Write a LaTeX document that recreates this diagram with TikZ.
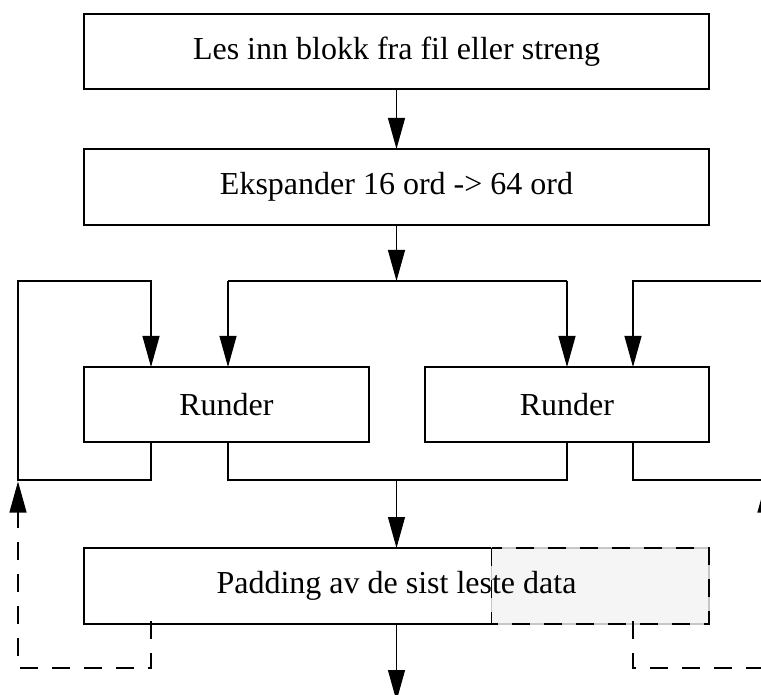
\documentclass[tikz,border=0pt]{standalone}
\usepackage{fontspec}
\setmainfont{Liberation Serif}
\usetikzlibrary{arrows.meta}
\begin{document}
\begin{tikzpicture}[x=0.75pt,y=-0.75pt,
  lw/.style={line width=0.8pt},
  box/.style={draw, lw, minimum width=468.75pt, minimum height=56.25pt,
    inner sep=0pt, outer sep=0pt, fill=white},
  lbl/.style={font=\fontsize{24}{29}\selectfont, inner sep=0pt},
  arr/.style={lw, -{Triangle[length=23.25pt,width=12.75pt]}},
  ln/.style={lw},
  dsh/.style={lw, dash pattern=on 13.5pt off 10.5pt},
  overlay box/.style={fill=black!4, draw=black!22, lw, inner sep=0pt, outer sep=0pt,
    minimum width=163pt, minimum height=57pt}
]
\useasboundingbox (0,0) rectangle (761,695);
\clip (0,0) rectangle (761,695);

% boxes
\node[box, lbl] (b1) at (396.5,51.5) {Les inn blokk fra fil eller streng};
\node[box, lbl, minimum height=57pt] (b2) at (396.5,187) {Ekspander 16 ord -> 64 ord};
\node[box, lbl, minimum width=213.75pt] (r1) at (226.5,404.5) {Runder};
\node[box, lbl, minimum width=213pt] (r2) at (567,404.5) {Runder};
\node[box, minimum height=57pt] (p) at (396.5,586) {};
\node[overlay box] (g) at (600.35,586) {};
\draw[dsh] (g.north west) rectangle (g.south east);
\node[lbl] (pt) at (396.5,586) {Padding av de sist leste data};

% coordinates
\coordinate (top) at (396.5,281);
\coordinate (tl) at (228,281);
\coordinate (tr) at (567,281);
\coordinate (l1t) at (151,281);
\coordinate (lxt) at (18,281);
\coordinate (lxb) at (18,480);
\coordinate (l1b) at (151,480);
\coordinate (mb1) at (228,480);
\coordinate (mb2) at (567,480);
\coordinate (mbc) at (396.5,480);
\coordinate (r1t) at (633,281);
\coordinate (rxt) at (766,281);
\coordinate (rxb) at (766,480);
\coordinate (r1b) at (633,480);
\coordinate (fl0) at (151,621);
\coordinate (fl1) at (151,668);
\coordinate (fl2) at (18,668);
\coordinate (fl3) at (18,481.5);
\coordinate (fr0) at (633,621);
\coordinate (fr1) at (633,668);
\coordinate (fr2) at (766,668);
\coordinate (fr3) at (766,481.5);
\coordinate (out) at (396.5,701);

% connectors
\draw[arr] (b1.south) -- (b2.north);
\draw[arr] (b2.south) -- (top);
\draw[ln] (tl) -- (tr);
\draw[arr] (tl) -- (tl |- r1.north);
\draw[arr] (tr) -- (tr |- r2.north);

\draw[arr] (r1.south -| l1b) -- (l1b) -- (lxb) -- (lxt) -- (l1t) -- (l1t |- r1.north);
\draw[arr] (r2.south -| r1b) -- (r1b) -- (rxb) -- (rxt) -- (r1t) -- (r1t |- r2.north);

\draw[ln] (r1.south -| mb1) -- (mb1) -- (mb2) -- (r2.south -| mb2);
\draw[arr] (mbc) -- (p.north);

\draw[dsh, -{Triangle[length=23.25pt,width=12.75pt]}] (fl0) -- (fl1) -- (fl2) -- (fl3);
\draw[dsh, -{Triangle[length=23.25pt,width=12.75pt]}] (fr0) -- (fr1) -- (fr2) -- (fr3);

\draw[arr] (p.south) -- (out);
\end{tikzpicture}
\end{document}
